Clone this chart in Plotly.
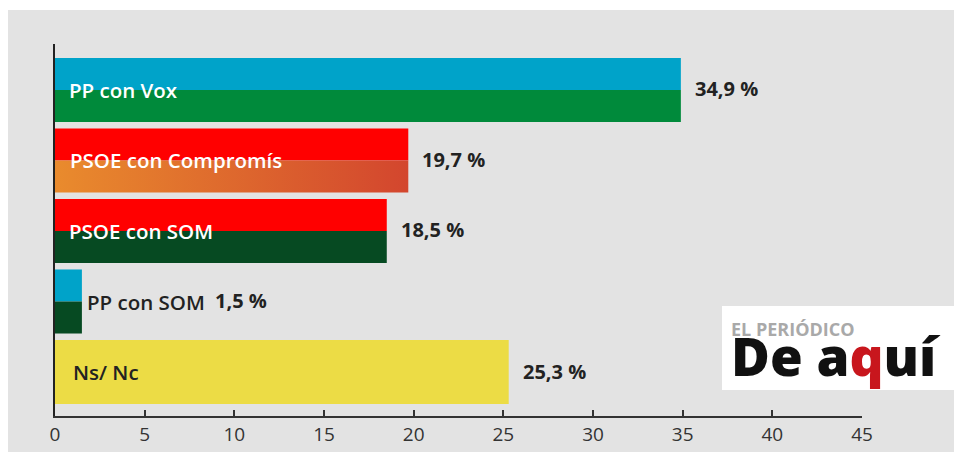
import plotly.graph_objects as go

# ---- data ----
categories = ["PP con Vox", "PSOE con Compromís", "PSOE con SOM", "PP con SOM", "Ns/ Nc"]
values = [34.9, 19.7, 18.5, 1.5, 25.3]
value_labels = ["34,9 %", "19,7 %", "18,5 %", "1,5 %", "25,3 %"]
x_ticks = [0, 5, 10, 15, 20, 25, 30, 35, 40, 45]

# ---- styles ----
top_colors = ["#00a3c9", "#ff0000", "#ff0000", "#00a3c9", "#ecdc45"]
bottom_colors = ["#008a3b", None, "#064a22", "#064a22", "#ecdc45"]
gradient_scale = [[0, "#e98b2d"], [1, "#d3462e"]]
label_colors = ["#ffffff", "#ffffff", "#ffffff", "#222222", "#222222"]
label_inside = [True, True, True, False, True]
label_shift = [12, 13, 12, 3, 16]

HALF = 0.454
positions = list(range(len(categories)))
LABEL_FONT = dict(family="Open Sans", size=20.5, weight=600)
VALUE_FONT = dict(family="Open Sans", size=20, color="#222222", weight=700)

fig = go.Figure()

# top halves
fig.add_trace(go.Bar(
    x=values, y=positions, orientation="h",
    width=HALF, offset=-HALF,
    marker=dict(color=top_colors, line=dict(width=0)),
    hoverinfo="skip", showlegend=False,
))

# bottom halves (solid ones)
solid_idx = [i for i, c in enumerate(bottom_colors) if c is not None]
fig.add_trace(go.Bar(
    x=[values[i] for i in solid_idx], y=[positions[i] for i in solid_idx],
    orientation="h", width=HALF, offset=0,
    marker=dict(color=[bottom_colors[i] for i in solid_idx], line=dict(width=0)),
    hoverinfo="skip", showlegend=False,
))

# gradient bottom halves
for i, c in enumerate(bottom_colors):
    if c is None:
        v, p = values[i], positions[i]
        fig.add_trace(go.Scatter(
            x=[0, v, v, 0, 0], y=[p, p, p + HALF, p + HALF, p],
            mode="none", fill="toself",
            fillgradient=dict(type="horizontal", colorscale=gradient_scale),
            hoverinfo="skip", showlegend=False,
        ))

# labels
for i, cat in enumerate(categories):
    if label_inside[i]:
        fig.add_annotation(x=0, y=positions[i], text=cat, xanchor="left", yanchor="middle",
                           xshift=label_shift[i], showarrow=False,
                           font=dict(LABEL_FONT, color=label_colors[i]))
        fig.add_annotation(x=values[i], y=positions[i], text=value_labels[i], xanchor="left",
                           yanchor="middle", xshift=12, yshift=1, showarrow=False,
                           font=VALUE_FONT)
    else:
        fig.add_annotation(x=values[i], y=positions[i], text=cat, xanchor="left", yanchor="middle",
                           xshift=label_shift[i], showarrow=False,
                           font=dict(LABEL_FONT, color=label_colors[i]))
        fig.add_annotation(x=values[i], y=positions[i], text=value_labels[i], xanchor="left",
                           yanchor="middle", xshift=131, yshift=1, showarrow=False,
                           font=VALUE_FONT)

# logo
fig.add_shape(type="rect", xref="paper", yref="paper", x0=0.8265, x1=1.1363, y0=0.0699, y1=0.2957,
              fillcolor="#ffffff", line=dict(width=0), layer="above")
fig.add_annotation(
    xref="paper", yref="paper", x=0.835, y=0.166, xanchor="left", yanchor="middle",
    align="left", showarrow=False,
    text=("<span style='font-size:18px;color:#a9a9a9'>EL PERIÓDICO</span><br>"
          "<span style='font-size:53px;font-weight:800'>De a<span style='color:#c8161d'>q</span>uí</span>"),
    font=dict(family="Open Sans", size=31, color="#111111", weight=700),
)

# thin white strip at the top of the page
fig.add_shape(type="rect", xref="paper", yref="paper", x0=-0.2, x1=1.2, y0=1.0914, y1=1.2,
              fillcolor="#ffffff", line=dict(width=0), layer="below")

fig.update_layout(
    width=962, height=452,
    margin=dict(l=47, r=108, t=36, b=44),
    paper_bgcolor="#e3e3e3", plot_bgcolor="rgba(0,0,0,0)",
    barmode="overlay",
    xaxis=dict(range=[0, 45], tickvals=x_ticks, ticks="inside", ticklen=6, tickwidth=2,
               tickcolor="#333333", showline=True, linecolor="#333333", linewidth=2,
               showgrid=False, zeroline=False,
               tickfont=dict(family="Open Sans", size=19, color="#333333")),
    yaxis=dict(range=[4.624, -0.652], showline=True, linecolor="#222222", linewidth=2,
               showticklabels=False, ticks="", showgrid=False, zeroline=False),
)

fig.write_html("out.html")
